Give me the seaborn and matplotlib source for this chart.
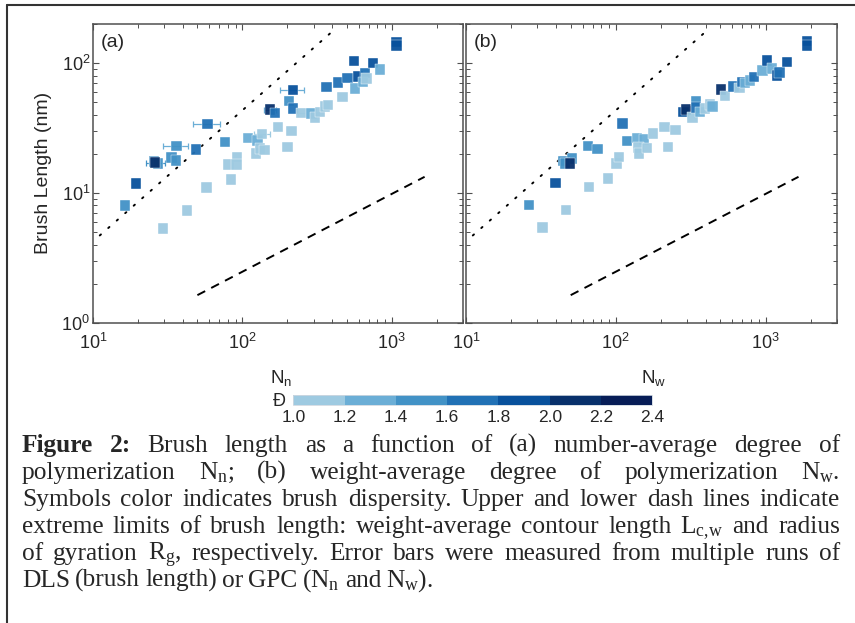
import numpy as np
import pandas as pd
import seaborn as sns
import matplotlib as mpl
import matplotlib.pyplot as plt
from matplotlib.colors import ListedColormap, BoundaryNorm
from matplotlib.lines import Line2D

# panel (a): brush length vs number-average degree of polymerization
nn_a = [16.4, 19.4, 29.5, 42.4, 57.5, 25.5, 27.2, 26.0, 33.6, 35.9,
        36.3, 48.9, 58.5, 76.8, 80.9, 83.8, 92.3, 91.3, 109, 126,
        123, 135.5, 131, 141, 174, 200, 213, 206, 219, 219,
        153, 165, 249, 290, 305, 330, 356, 375, 366, 438,
        468, 505, 557, 565, 595, 660, 643, 677, 750, 832,
        1074, 1074]
len_a = [8.0, 11.8, 5.3, 7.3, 11.0, 17.4, 16.8, 17.1, 18.7, 17.8,
         22.9, 21.6, 33.8, 24.7, 16.5, 12.7, 18.9, 16.6, 26.5, 25.4,
         20.1, 28.3, 22.0, 21.3, 32.2, 22.6, 30.0, 51.0, 44.6, 61.7,
         43.8, 41.2, 41.2, 40.8, 38.0, 42.0, 46.4, 47.3, 65.4, 70.7,
         54.7, 76.7, 104, 63.5, 79.0, 83.8, 71.5, 75.9, 100, 89,
         145, 137]
disp_a = [1.5, 1.9, 1.1, 1.1, 1.1, 1.5, 1.5, 2.1, 1.5, 1.5,
          1.5, 1.7, 1.7, 1.5, 1.1, 1.1, 1.1, 1.1, 1.3, 1.3,
          1.1, 1.1, 1.1, 1.1, 1.1, 1.1, 1.1, 1.5, 1.7, 1.9,
          2.1, 1.7, 1.1, 1.3, 1.1, 1.1, 1.1, 1.1, 1.7, 1.7,
          1.1, 1.7, 1.9, 1.3, 1.9, 1.7, 1.3, 1.1, 1.9, 1.3,
          1.9, 1.9]

# horizontal error bars in panel (a)
err_n = [26.0, 36.3, 58.5, 135.5, 153, 219, 249]
err_len = [17.1, 22.9, 33.8, 28.3, 43.8, 61.7, 41.2]
err_lo = [22.5, 29.5, 47.0, 120, 140, 178, 235]
err_hi = [30.5, 43.0, 71.0, 152, 168, 258, 265]
err_disp = [1.5, 1.3, 1.3, 1.1, 1.5, 1.3, 1.1]

# panel (b): brush length vs weight-average degree of polymerization
nw_b = [26.4, 32.4, 39.5, 46.4, 44.7, 50.8, 45.8, 49.5, 66.4, 65.0,
        75.4, 88.9, 101, 105, 111, 118.5, 138, 155, 142, 143,
        161, 178, 212, 223, 250, 283, 295, 325, 342, 342,
        366, 395, 427, 442, 505, 537, 611, 670, 702, 731,
        789, 839, 953, 1020, 1102, 1189, 1239, 1387, 1888, 1888]
len_b = [8.1, 5.4, 11.9, 7.4, 17.6, 18.4, 16.8, 16.8, 11.1, 23.0,
         21.7, 12.9, 16.8, 18.9, 34.2, 25.0, 26.5, 25.7, 22.4, 20.1,
         22.1, 28.6, 32.2, 22.6, 30.4, 42.0, 43.8, 38.0, 50.8, 45.4,
         42.0, 44.6, 48.1, 46.4, 62.4, 55.5, 66.2, 64.2, 71.5, 70.2,
         73.6, 78.0, 87.9, 105, 90.6, 80.4, 84.4, 102, 148, 137]
disp_b = [1.5, 1.1, 1.9, 1.1, 1.5, 1.5, 1.5, 2.1, 1.1, 1.5,
          1.5, 1.1, 1.1, 1.1, 1.7, 1.5, 1.3, 1.3, 1.1, 1.1,
          1.1, 1.1, 1.1, 1.1, 1.1, 1.9, 2.1, 1.1, 1.5, 1.7,
          1.3, 1.1, 1.1, 1.3, 2.1, 1.1, 1.7, 1.1, 1.7, 1.3,
          1.3, 1.7, 1.3, 1.9, 1.3, 1.9, 1.7, 1.9, 1.9, 1.9]

# limit lines (end points)
upper_x = [11.1, 420]
upper_y = [4.7, 184]
lower_x = [50, 1660]
lower_y = [1.63, 13.3]

disp_bounds = [1.0, 1.2, 1.4, 1.6, 1.8, 2.0, 2.2, 2.4]
disp_labels = ["1.0", "1.2", "1.4", "1.6", "1.8", "2.0", "2.2", "2.4"]
disp_mids = [1.1, 1.3, 1.5, 1.7, 1.9, 2.1, 2.3]
disp_colors = ["#9ecae1", "#6baed6", "#4292c6", "#2171b5",
               "#08519c", "#08306b", "#071d57"]
palette = dict(zip(disp_mids, disp_colors))

sns.set_style("ticks")
plt.rcParams['font.family'] = ['Liberation Sans', 'DejaVu Sans']
plt.rcParams['mathtext.default'] = 'regular'

W, H = 855, 623
fig = plt.figure(figsize=(W / 100, H / 100), dpi=100)
ax_a = fig.add_axes([93 / W, 1 - 322.7 / H, 370 / W, 298.7 / H])
ax_b = fig.add_axes([466 / W, 1 - 322.7 / H, 371 / W, 298.7 / H])

df_a = pd.DataFrame({"N": nn_a, "L": len_a, "D": disp_a})
df_b = pd.DataFrame({"N": nw_b, "L": len_b, "D": disp_b})

for n, l, lo, hi, d in zip(err_n, err_len, err_lo, err_hi, err_disp):
    ax_a.errorbar(n, l, xerr=[[n - lo], [hi - n]], fmt='none',
                  ecolor=palette[d], elinewidth=0.9, capsize=2.5,
                  capthick=0.9, zorder=2)

for ax, df, tag in [(ax_a, df_a, "(a)"), (ax_b, df_b, "(b)")]:
    ax.set_xscale("log")
    ax.set_yscale("log")
    sns.scatterplot(data=df, x="N", y="L", hue="D", palette=palette,
                    marker="s", s=56, edgecolor="white", linewidth=0.3,
                    alpha=0.95, legend=False, ax=ax, zorder=3)
    ax.plot(upper_x, upper_y, color="black", lw=1.4, ls=(0, (0.8, 5)),
            dash_capstyle="round", zorder=1)
    ax.plot(lower_x, lower_y, color="black", lw=1.4, ls=(0, (4.5, 3.5)),
            zorder=1)
    ax.set_xlim(10, 3000)
    ax.set_ylim(1, 200)
    ax.set_xlabel("")
    ax.set_ylabel("")
    ax.text(0.022, 0.968, tag, transform=ax.transAxes, ha="left", va="top",
            fontsize=14)
    for sp in ax.spines.values():
        sp.set_color("#505050")
        sp.set_linewidth(1.1)
    ax.tick_params(which="both", direction="in", top=True, right=True,
                   color="#505050", labelsize=13)
    ax.tick_params(axis="y", pad=2)
    ax.tick_params(axis="x", pad=7)
    ax.tick_params(which="major", length=4.5, width=0.8)
    ax.tick_params(which="minor", length=2.6, width=0.7)

ax_a.set_ylabel("Brush Length (nm)", fontsize=14, labelpad=7)
ax_b.tick_params(labelleft=False)

# dispersity colour bar
cmap = ListedColormap(disp_colors)
norm = BoundaryNorm(disp_bounds, cmap.N)
cax = fig.add_axes([293.3 / W, 1 - 405 / H, 359 / W, 10 / H])
cb = mpl.colorbar.ColorbarBase(cax, cmap=cmap, norm=norm,
                               orientation="horizontal", ticks=disp_bounds)
cb.set_ticklabels(disp_labels)
cb.outline.set_edgecolor("#d0d8e0")
cb.outline.set_linewidth(0.6)
cax.tick_params(length=0, labelsize=12.5, pad=3.5)
fig.text(286 / W, 1 - 401 / H, "Đ", ha="right", va="center", fontsize=13)
fig.text(270 / W, 1 - 383 / H, r"N$_\mathregular{n}$", ha="left",
         va="baseline", fontsize=13.5)
fig.text(641 / W, 1 - 383 / H, r"N$_\mathregular{w}$", ha="left",
         va="baseline", fontsize=13.5)

# outer frame
fig.add_artist(Line2D([7 / W, 7 / W], [0, 1 - 5 / H], color="#333333",
                      lw=1.5, transform=fig.transFigure))
fig.add_artist(Line2D([7 / W, 1], [1 - 5 / H, 1 - 5 / H], color="#333333",
                      lw=1.5, transform=fig.transFigure))

# caption, justified
cap_lines = [
    [("Figure", True), ("2:", True), ("Brush", False), ("length", False),
     ("as", False), ("a", False), ("function", False), ("of", False),
     ("(a)", False), ("number-average", False), ("degree", False), ("of", False)],
    [("polymerization", False), (r"N$_\mathregular{n}$;", False), ("(b)", False),
     ("weight-average", False), ("degree", False), ("of", False),
     ("polymerization", False), (r"N$_\mathregular{w}$.", False)],
    [(w, False) for w in "Symbols color indicates brush dispersity. Upper and lower dash lines indicate".split()],
    [(w, False) for w in "extreme limits of brush length: weight-average contour length".split()]
    + [(r"L$_\mathregular{c{,}w}$", False), ("and", False), ("radius", False)],
    [("of", False), ("gyration", False), (r"R$_\mathregular{g}$,", False)]
    + [(w, False) for w in "respectively. Error bars were measured from multiple runs of".split()],
    [(w, False) for w in "DLS (brush length) or GPC".split()]
    + [(r"(N$_\mathregular{n}$", False), ("and", False), (r"N$_\mathregular{w}$).", False)],
]

cap_left, cap_right = 22, 840
base0, step = 452, 27
renderer = fig.canvas.get_renderer()
for i, line in enumerate(cap_lines):
    y = 1 - (base0 + i * step) / H
    items = []
    for word, bold in line:
        t = fig.text(0, y, word, fontsize=18.3, ha="left", va="baseline",
                     family=["Liberation Serif", "DejaVu Serif"],
                     weight="bold" if bold else "normal")
        items.append(t)
    widths = [t.get_window_extent(renderer).width for t in items]
    if i < len(cap_lines) - 1:
        gap = (cap_right - cap_left - sum(widths)) / (len(items) - 1)
    else:
        gap = 5.0
    x = cap_left
    for t, w in zip(items, widths):
        t.set_x(x / W)
        x += w + gap

fig.savefig("out.png", dpi=100)
